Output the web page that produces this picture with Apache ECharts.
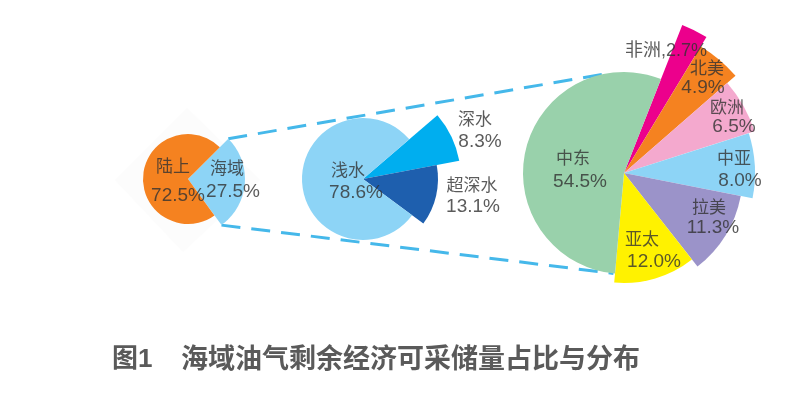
<!DOCTYPE html>
<html>
<head>
<meta charset="utf-8">
<title>海域油气剩余经济可采储量占比与分布</title>
<script src="https://cdn.jsdelivr.net/npm/echarts@6/dist/echarts.min.js"></script>
<style>
    html, body { margin: 0; padding: 0; background: #fff; }
    #chart { width: 800px; height: 401px; }
</style>
</head>
<body>
<div id="chart"></div>
<script>
'use strict';
// 数据
var areaNames = ['海域', '陆上'];
var areaShares = [27.5, 72.5];
var depthNames = ['深水', '超深水', '浅水'];
var depthShares = [8.3, 13.1, 78.6];
var regionNames = ['非洲', '北美', '欧洲', '中亚', '拉美', '亚太', '中东'];
var regionShares = [2.7, 4.9, 6.5, 8.0, 11.3, 12.0, 54.5];

// 样式
var areaColors = ['#8dd4f6', '#f58220'];
var depthColors = ['#00aeef', '#1e5fae', '#8dd4f6'];
var regionColors = ['#ec008c', '#f58220', '#f4a9ce', '#8dd4f6', '#9b93c9', '#fff200', '#99d1ab'];
var areaRadius = [57, 45];
var depthRadius = [98, 75, 61];
var regionRadius = [159, 148, 137, 131, 119, 110, 101];
var areaCenter = [188, 179];
var depthCenter = [363, 179];
var regionCenter = [624, 173];

// 标签位置: [名称x, 名称y, 数值x, 数值y]
var areaLabelPos = [[227, 169, 233, 192], [173, 167, 178, 196]];
var depthLabelPos = [[475, 120, 480, 142], [472, 186, 473, 207], [348, 171, 356, 193]];
var regionLabelPos = [[666, 51], [707, 69, 703, 88], [727, 108, 734, 127], [734, 159, 740, 181],
    [709, 208, 713, 228], [642, 240, 654, 262], [573, 159, 580, 182]];

var labelFont = '"Liberation Sans", "Noto Sans CJK SC", sans-serif';
var labelColor = 'rgba(50, 50, 50, 0.8)';

// 每块扇形半径不同, 每块用一个 pie 系列, 其余扇形透明
var makePie = function (names, values, colors, radii, center, startAngle) {
    return names.map(function (name, owner) {
        return {
            type: 'pie',
            silent: true,
            animation: false,
            center: center,
            radius: [0, radii[owner]],
            startAngle: startAngle,
            label: { show: false },
            labelLine: { show: false },
            data: names.map(function (n, i) {
                return {
                    name: n,
                    value: values[i],
                    itemStyle: { color: i === owner ? colors[i] : 'rgba(0,0,0,0)' }
                };
            })
        };
    });
};

var makeText = function (text, x, y, size) {
    return {
        type: 'text',
        x: x,
        y: y,
        z: 10,
        style: {
            text: text,
            fill: labelColor,
            font: size + 'px ' + labelFont,
            align: 'center',
            verticalAlign: 'middle'
        }
    };
};

var makeLabels = function (names, values, positions) {
    var out = [];
    names.forEach(function (name, i) {
        var p = positions[i];
        var valueText = values[i].toFixed(1) + '%';
        if (p.length === 2) {
            out.push(makeText(name + ',' + valueText, p[0], p[1], 18));
        } else {
            out.push(makeText(name, p[0], p[1], 17));
            out.push(makeText(valueText, p[2], p[3], 19));
        }
    });
    return out;
};

var polarPoint = function (center, radius, angle) {
    var rad = angle * Math.PI / 180;
    return [center[0] + radius * Math.cos(rad), center[1] - radius * Math.sin(rad)];
};

var makeConnector = function (from, to) {
    return {
        type: 'line',
        z: 1,
        shape: { x1: from[0], y1: from[1], x2: to[0], y2: to[1] },
        style: { stroke: '#45b8ea', lineWidth: 3, lineDash: [19, 11] }
    };
};

var backdrop = {
    type: 'polygon',
    z: 0,
    shape: { points: [[187, 108], [260, 180], [183, 252], [115, 180]] },
    style: { fill: '#fcfcfc' }
};

var graphics = [
    backdrop,
    makeConnector(polarPoint(areaCenter, areaRadius[0], 45), polarPoint(regionCenter, regionRadius[6], 102.5)),
    makeConnector(polarPoint(areaCenter, areaRadius[0], -54), polarPoint(regionCenter, regionRadius[6], -96))
].concat(
    makeLabels(areaNames, areaShares, areaLabelPos),
    makeLabels(depthNames, depthShares, depthLabelPos),
    makeLabels(regionNames, regionShares, regionLabelPos)
);

var chart = echarts.init(document.getElementById('chart'));
chart.setOption({
    backgroundColor: '#fff',
    animation: false,
    title: [{
        text: '图1',
        left: 107,
        top: 342,
        textStyle: { fontSize: 26, fontWeight: 700, color: '#5a5a5a', fontFamily: labelFont }
    }, {
        text: '海域油气剩余经济可采储量占比与分布',
        left: 176,
        top: 342,
        textStyle: { fontSize: 27, fontWeight: 700, color: '#5a5a5a', fontFamily: labelFont }
    }],
    series: [].concat(
        makePie(areaNames, areaShares, areaColors, areaRadius, areaCenter, 45),
        makePie(depthNames, depthShares, depthColors, depthRadius, depthCenter, 40.6),
        makePie(regionNames, regionShares, regionColors, regionRadius, regionCenter, 68.5)
    ),
    graphic: { elements: graphics }
});
</script>
</body>
</html>
